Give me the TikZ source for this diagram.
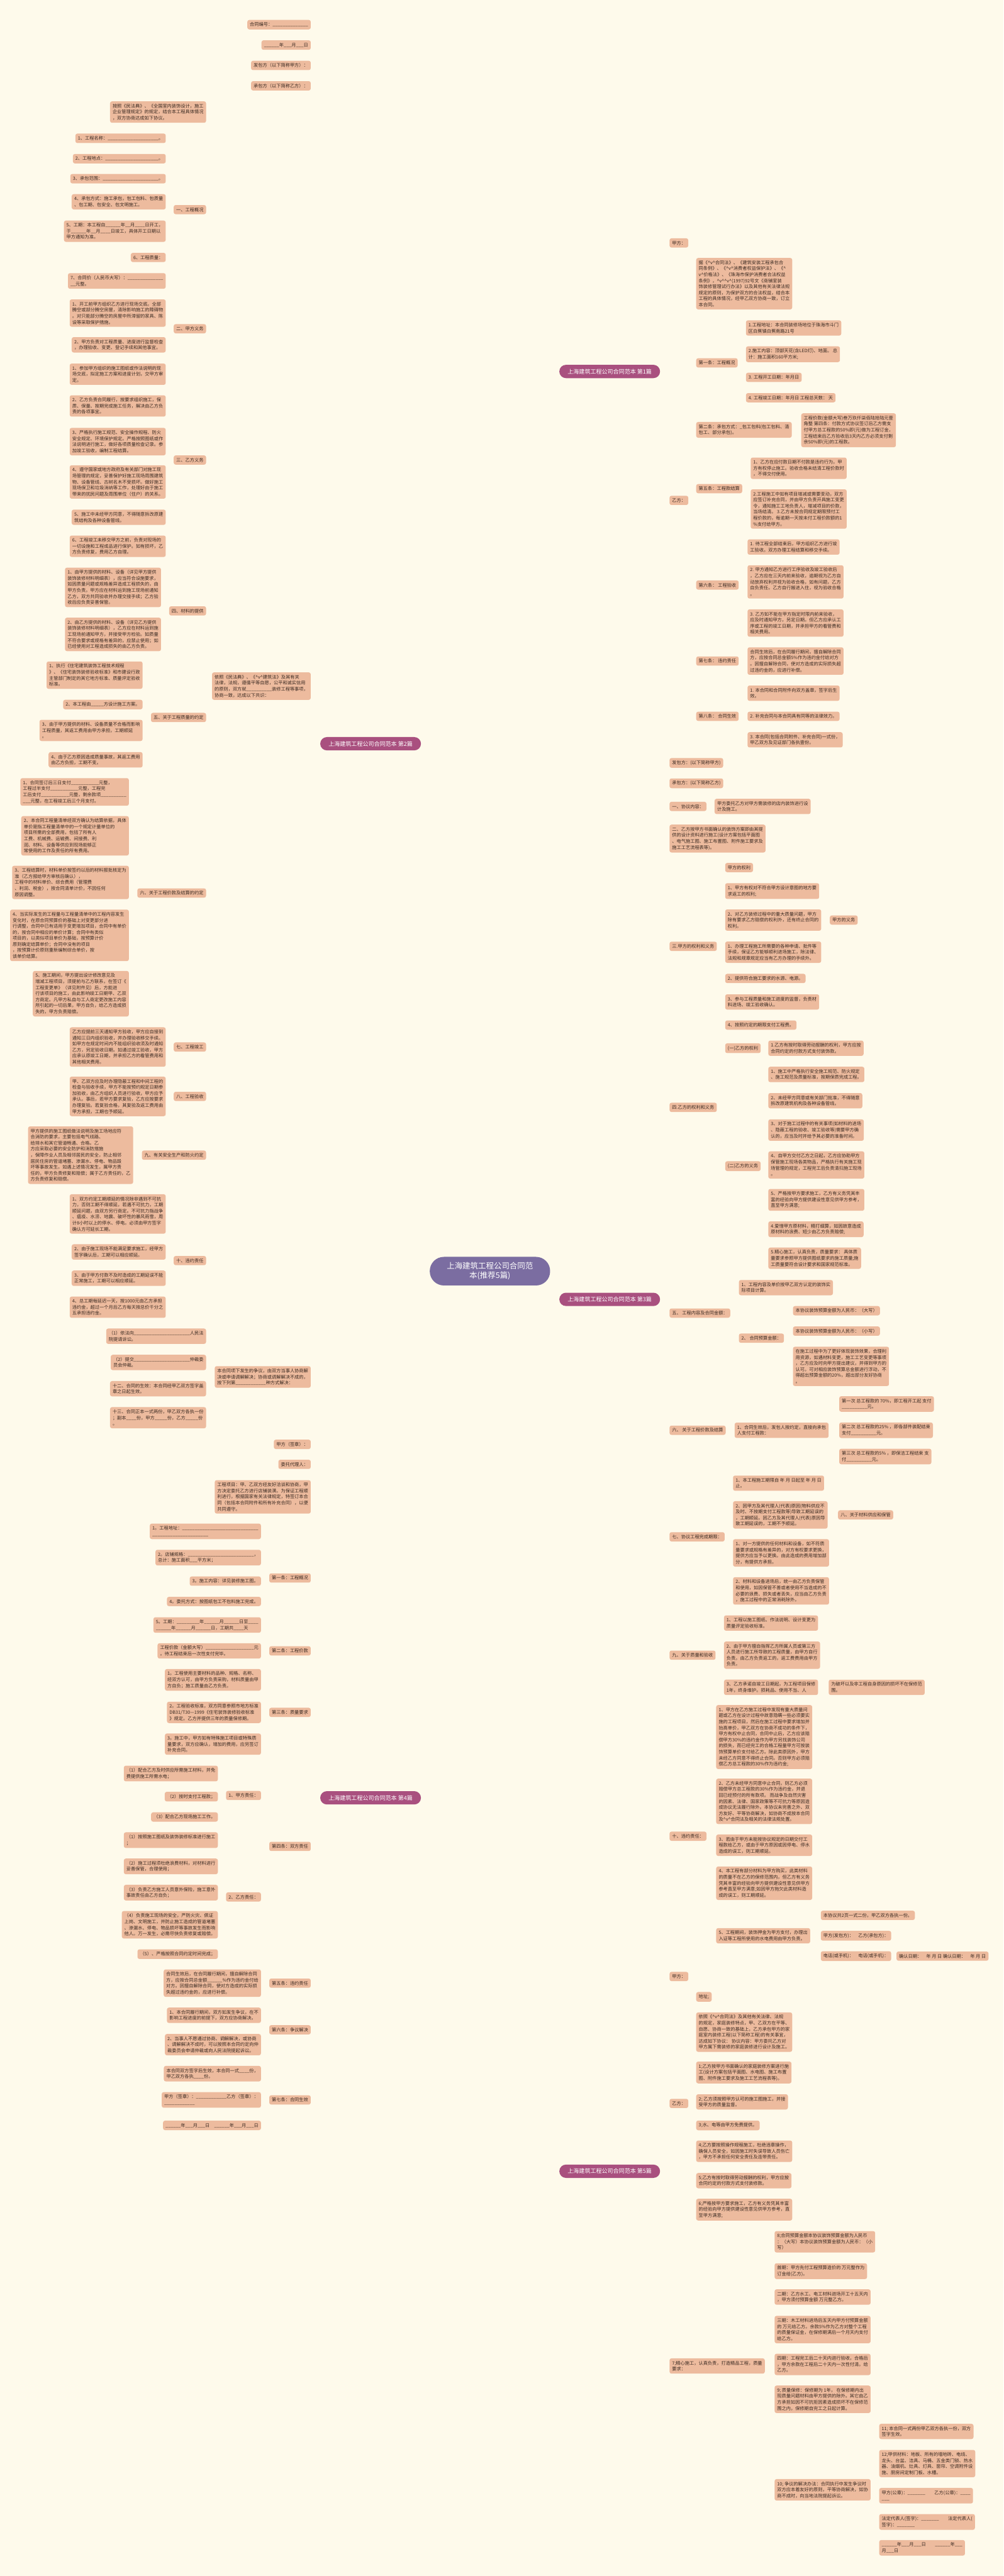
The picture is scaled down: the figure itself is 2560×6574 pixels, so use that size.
\documentclass[tikz,border=0pt]{standalone}
\usepackage{fontspec}
\setmainfont{Noto Sans CJK SC}
\usetikzlibrary{calc}
\XeTeXlinebreaklocale "zh"
\definecolor{bgc}{HTML}{FEFAEB}
\definecolor{leafc}{HTML}{EDBB9E}
\definecolor{pillc}{HTML}{A9507F}
\definecolor{rootc}{HTML}{7B6DA1}
\definecolor{linec}{HTML}{2F1B1C}
\definecolor{txtc}{HTML}{3A2A22}
\pgfdeclarelayer{bg}
\pgfsetlayers{bg,main}
\tikzset{
  lf/.style={rectangle, rounded corners=5pt, fill=leafc, text=txtc,
    font=\fontsize{11.6pt}{15.4pt}\selectfont, inner xsep=6.5pt, inner ysep=6.4pt, align=left},
  lfl/.style={lf, anchor=east},
  lfr/.style={lf, anchor=west},
  pill/.style={rectangle, rounded corners=17pt, fill=pillc, text=white,
    font=\fontsize{14.5pt}{17pt}\selectfont, minimum height=34pt, minimum width=257pt, inner xsep=4pt},
  rootn/.style={rectangle, rounded corners=36pt, fill=rootc, text=white,
    font=\fontsize{20pt}{24pt}\selectfont, align=center, minimum width=307pt, minimum height=73pt, inner ysep=10pt},
  cl/.style={draw=linec, line width=2pt, rounded corners=5pt,
    to path={-- ($(\tikztostart)!.5!(\tikztostart -| \tikztotarget)$) |- (\tikztotarget)}},
  cs/.style={draw=linec, line width=2pt},
  cv/.style={draw=linec, line width=2pt,
    to path={.. controls ($(\tikztostart)!.5!(\tikztostart -| \tikztotarget)$) and ($(\tikztotarget)!.5!(\tikztotarget -| \tikztostart)$) .. (\tikztotarget)}},
  rc/.style={draw=linec, line width=1.8pt},
}
\catcode`\_=12
\catcode`\^=12
\begin{document}
\begin{tikzpicture}[x=1pt,y=-1pt]
\useasboundingbox (0,0) rectangle (2560,6574);
\fill[bgc] (0,0) rectangle (2560,6574);
% ---------- root and branches
\node[rootn] (root) at (1250,3244) {上海建筑工程公司合同范\\本(推荐5篇)};
\node[pill] (b1) at (1555.5,948) {上海建筑工程公司合同范本 第1篇};
\node[pill] (b2) at (945.5,1898) {上海建筑工程公司合同范本 第2篇};
\node[pill] (b3) at (1555.5,3316) {上海建筑工程公司合同范本 第3篇};
\node[pill] (b4) at (945.5,4588) {上海建筑工程公司合同范本 第4篇};
\node[pill] (b5) at (1555.5,5541) {上海建筑工程公司合同范本 第5篇};

% ================= Branch 2 (left)
\node[lfl] (a1) at (793,63) {合同编号：______________};
\node[lfl] (a2) at (793,115) {______年___月___日};
\node[lfl] (a3) at (793,167) {发包方（以下简称甲方）：};
\node[lfl] (a4) at (793,219) {承包方（以下简称乙方）：};
\node[lfl] (a5) at (793,1751) {依照《民法典》、《^v^建筑法》及其有关\\法律，法规，遵循平等自愿，公平和诚实信用\\的原则，双方就__________装修工程等事项，\\协商一致，达成以下共识：};
\node[lfl] (a6) at (793,3514) {本合同项下发生的争议，由双方当事人协商解\\决或申请调解解决；协商或调解解决不成的，\\按下列第____________种方式解决：};
\node[lfl] (a7) at (793,3686) {甲方（签章）：};
\node[lfl] (a8) at (793,3737) {委托代理人：};

\node[lfl] (a50) at (526,286) {按照《民法典》、《全国室内装饰设计，施工\\企业管理规定》的规定，结合本工程具体情况\\，双方协商达成如下协议。};
\node[lfl] (a51) at (526,535) {一、工程概况};
\node[lfl] (a52) at (526,839) {二、甲方义务};
\node[lfl] (a53) at (526,1174) {三、乙方义务};
\node[lfl] (a54) at (526,1559) {四、材料的提供};
\node[lfl] (a55) at (526,1831) {五、关于工程质量的约定};
\node[lfl] (a56) at (526,2279) {六、关于工程价款及结算的约定};
\node[lfl] (a57) at (526,2672) {七、工程竣工};
\node[lfl] (a58) at (526,2798) {八、工程验收};
\node[lfl] (a59) at (526,2948) {九、有关安全生产和防火约定};
\node[lfl] (a510) at (526,3217) {十、违约责任};

\node[lfl] (a511) at (423,353) {1、工程名称：____________________。};
\node[lfl] (a512) at (423,405) {2、工程地点：_____________________。};
\node[lfl] (a513) at (423,456) {3、承包范围：______________________。};
\node[lfl] (a514) at (423,515) {4、承包方式：施工承包，包工包料、包质量\\、包工期、包安全、包文明施工。};
\node[lfl] (a515) at (423,590) {5、工期：本工程自______年__月____日开工，\\于______年__月____日竣工，具体开工日期以\\甲方通知为准。};
\node[lfl] (a516) at (423,657) {6、工程质量：};
\node[lfl] (a517) at (423,717) {7、合同价（人民币大写）：______________\\__元整。};

\node[lfl] (a521) at (423,799) {1、开工前甲方组织乙方进行现场交底。全部\\腾空或部分腾空房屋，清除影响施工的障碍物\\。对只能部分腾空的房屋中所滞留的家具、陈\\设等采取保护措施。};
\node[lfl] (a522) at (423,880) {2、甲方负责对工程质量、进度进行监督检查\\，办理验收、变更、登记手续和其他事宜。};

\node[lfl] (a531) at (423,955) {1、参加甲方组织的施工图纸或作法说明的现\\场交底，拟定施工方案和进度计划，交甲方审\\定。};
\node[lfl] (a532) at (423,1036) {2、乙方负责合同履行，按要求组织施工，保\\质、保量、按期完成施工任务，解决由乙方负\\责的各项事宜。};
\node[lfl] (a533) at (423,1127) {3、严格执行施工规范、安全操作规程、防火\\安全规定、环境保护规定。严格按照图纸或作\\法说明进行施工，做好各项质量检查记录。参\\加竣工验收，编制工程结算。};
\node[lfl] (a534) at (423,1230) {4、遵守国家或地方政府及有关部门对施工现\\场管理的规定，妥善保护好施工现场周围建筑\\物、设备管线、古树名木不受损坏。做好施工\\现场保卫和垃圾消纳等工作，处理好由于施工\\带来的扰民问题及周围单位（住户）的关系。};
\node[lfl] (a535) at (423,1320) {5、施工中未经甲方同意，不得随意拆改原建\\筑结构及各种设备管线。};
\node[lfl] (a536) at (423,1394) {6、工程竣工未移交甲方之前，负责对现场的\\一切设施和工程成品进行保护。如有损坏，乙\\方负责修复，费用乙方自理。};

\node[lfl] (a541) at (411,1499) {1、由甲方提供的材料、设备（详见甲方提供\\装饰装修材料明细表），应当符合设施要求，\\如因质量问题或规格差异造成工程损失的，由\\甲方负责。甲方应在材料运到施工现场前通知\\乙方，双方共同验收并办理交接手续；乙方验\\收后应负责妥善保管。};
\node[lfl] (a542) at (411,1619) {2、由乙方提供的材料、设备（详见乙方提供\\装饰装修材料明细表），乙方应在材料运到施\\工现场前通知甲方，并接受甲方检验。如质量\\不符合要求或规格有差异的，应禁止使用；如\\已经使用对工程造成损失的由乙方负责。};

\node[lfl] (a551) at (364,1723) {1、执行《住宅建筑装饰工程技术规程\\》、《住宅装饰装修验收标准》和市建设行政\\主管部门制定的其它地方标准、质量评定验收\\标准。};
\node[lfl] (a552) at (364,1798) {2、本工程由_____方设计施工方案。};
\node[lfl] (a553) at (364,1864) {3、由于甲方提供的材料、设备质量不合格而影响\\工程质量，其返工费用由甲方承担，工期顺延\\。};
\node[lfl] (a554) at (364,1939) {4、由于乙方原因造成质量事故，其返工费用\\由乙方负担，工期不变。};

\node[lfl] (a561) at (329,2021) {1、合同签订后三日支付___________元整，\\工程过半支付___________元整，工程完\\工后支付___________元整，剩余款项__________\\___元整，在工程竣工后三个月支付。};
\node[lfl] (a562) at (329,2133) {2、本合同工程量清单经双方确认为结算依据，具体\\单价是指工程量清单中的一个规定计量单位的\\项目所需的全部费用，包括了所有人\\工费、机械费、运输费、间接费、利\\润、材料、设备等供应到现场能够正\\常使用的工作及责任的所有费用。};
\node[lfl] (a563) at (329,2252) {3、工程结算时，材料单价按签约以后的材料报批核定为\\准（乙方报给甲方审核后确认），\\工程中的材料单价、综合费用（管理费\\、利润、税金），按合同清单计价，不因任何\\原因调整。};
\node[lfl] (a564) at (329,2387) {4、当实际发生的工程量与工程量清单中的工程内容发生\\变化时，在原合同预算价的基础上对变更部分进\\行调整，合同中已有适用于变更增加项目，合同中有单价\\的，按合同中相应的单价计算；合同中有类似\\项目的，以类似项目单价为基础，按预算计价\\原则确定结算单价；合同中没有的项目\\，按预算计价原则重新编制综合单价，按\\该单价结算。};
\node[lfl] (a565) at (329,2536) {5、施工期间，甲方提出设计修改意见及\\增减工程项目，须提前与乙方联系，在签订《\\工程变更单》（详见附件见）后，方能进\\行该项目的施工，由此影响竣工日期甲、乙双\\方商定。凡甲方私自与工人商定更改施工内容\\所引起的一切后果，甲方自负，给乙方造成损\\失的，甲方负责赔偿。};

\node[lfl] (a571) at (423,2672) {乙方应提前三天通知甲方验收，甲方应自接到\\通知三日内组织验收，并办理验收移交手续。\\如甲方在规定时间内不能组织验收须及时通知\\乙方，另定验收日期。如通过竣工验收，甲方\\应承认原竣工日期，并承担乙方的看管费用和\\其他相关费用。};
\node[lfl] (a581) at (423,2798) {甲、乙双方应及时办理隐蔽工程和中间工程的\\检查与验收手续，甲方不能按预约规定日期参\\加验收，由乙方组织人员进行验收，甲方应予\\承认。事后，若甲方要求复验，乙方应按要求\\办理复验。若复验合格，其复验及返工费用由\\甲方承担，工期也予顺延。};
\node[lfl] (a591) at (340,2948) {甲方提供的施工图纸做法说明及施工场地应符\\合消防的要求，主要包括电气线路、\\给排水和其它管道畅通、合格。乙\\方应采取必要的安全防护和消防措施\\，保障作业人员及相邻居民的安全，防止相邻\\居民住房的管道堵塞、渗漏水、停电、物品毁\\坏等事故发生。如遇上述情况发生，属甲方责\\任的，甲方负责修复和赔偿；属于乙方责任的，乙\\方负责修复和赔偿。};

\node[lfl] (a5101) at (423,3098) {1、双方约定工期顺延的情况除非遇到不可抗\\力，否则工期不得顺延，若遇不可抗力，工期\\顺延问题，由双方另行商定。不可抗力指战争\\、瘟疫、水涝、地震、破坏性的暴风雨雪，周\\计8小时以上的停水、停电。必须由甲方签字\\确认方可延长工期。};
\node[lfl] (a5102) at (423,3195) {2、由于施工现场不能满足要求施工，经甲方\\签字确认后，工期可以相应顺延。};
\node[lfl] (a5103) at (423,3262) {3、由于甲方付款不及时造成的工期延误不能\\正常施工，工期可以相应顺延。};
\node[lfl] (a5104) at (423,3336) {4、总工期每延迟一天，按1000元由乙方承担\\违约金，超过一个月后乙方每天按总价千分之\\五承担违约金。};

\node[lfl] (a61) at (526,3410) {（1）依法向______________________人民法\\院提请诉讼。};
\node[lfl] (a62) at (526,3477) {（2）提交______________________仲裁委\\员会仲裁。};
\node[lfl] (a63) at (526,3544) {十二、合同的生效：本合同经甲乙双方签字盖\\章之日起生效。};
\node[lfl] (a64) at (526,3618) {十三、合同正本一式两份，甲乙双方各执一份\\；副本____份，甲方_____份，乙方_____份\\。};

% ================= Branch 4 (left)
\node[lfl] (f1) at (793,3820) {工程项目：甲、乙双方经友好洽谈和协商，甲\\方决定委托乙方进行店铺装潢。为保证工程顺\\利进行，根据国家有关法律规定，特签订本合\\同（包括本合同附件和所有补充合同），以便\\共同遵守。};
\node[lfl] (f2) at (793,4027) {第一条：工程概况};
\node[lfl] (f3) at (793,4213) {第二条：工程价款};
\node[lfl] (f4) at (793,4370) {第三条：质量要求};
\node[lfl] (f5) at (793,4712) {第四条：双方责任};
\node[lfl] (f6) at (793,5061) {第五条：违约责任};
\node[lfl] (f7) at (793,5180) {第六条：争议解决};
\node[lfl] (f8) at (793,5359) {第七条：合同生效};

\node[lfl] (f21) at (666,3908) {1。工程地址：______________________________\\______________________};
\node[lfl] (f22) at (666,3975) {2。店铺规格：__________________________，\\总计：施工面积___平方米；};
\node[lfl] (f23) at (666,4035) {3。施工内容：详见装修施工图。};
\node[lfl] (f24) at (666,4087) {4。委托方式：按图纸包工不包料施工完成。};
\node[lfl] (f25) at (666,4147) {5。工期：_________年______月______日至____\\______年______月______日，工期共____天};
\node[lfl] (f31) at (666,4213) {工程价款（金额大写）___________________元\\。待工程结束后一次性支付完毕。};
\node[lfl] (f41) at (666,4287) {1。工程使用主要材料的品种、规格、名称、\\经双方认可，由甲方负责采购，材料质量由甲\\方自负；施工质量由乙方负责。};
\node[lfl] (f42) at (666,4370) {2。工程验收标准，双方同意参照市地方标准\\DB31/T30—1999《住宅装饰装修验收标准\\》规定。乙方并提供三年的质量保修期。};
\node[lfl] (f43) at (666,4451) {3。施工中，甲方如有特殊施工项目或特殊质\\量要求，双方应确认，增加的费用，应另签订\\补充合同。};
\node[lfl] (f51) at (666,4582) {1、甲方责任：};
\node[lfl] (f52) at (666,4841) {2、乙方责任：};
\node[lfl] (f511) at (556,4526) {（1）配合乙方及时供应所需施工材料，并免\\费提供施工所需水电；};
\node[lfl] (f512) at (556,4585) {（2）按时支付工程款；};
\node[lfl] (f513) at (556,4637) {（3）配合乙方现场施工工作。};
\node[lfl] (f521) at (556,4696) {（1）按照施工图纸及装饰装修标准进行施工\\；};
\node[lfl] (f522) at (556,4763) {（2）施工过程须杜绝浪费材料，对材料进行\\妥善保管，合理使用；};
\node[lfl] (f523) at (556,4830) {（3）负责乙方施工人员意外保险，施工意外\\事故责任由乙方自负；};
\node[lfl] (f524) at (556,4912) {（4）负责施工现场的安全，严防火灾、佩证\\上岗、文明施工，并防止施工造成的管道堵塞\\、渗漏水、停电、物品损坏等事故发生而影响\\他人。万一发生，必需尽快负责修复或赔偿。};
\node[lfl] (f525) at (556,4987) {（5）、严格按照合同约定时间完成；};
\node[lfl] (f61) at (666,5061) {合同生效后，在合同履行期间，擅自解除合同\\方，应按合同总金额______\%作为违约金付给\\对方。因擅自解除合同，使对方造成的实际损\\失超过违约金的，应进行补偿。};
\node[lfl] (f71) at (666,5143) {1、本合同履行期间，双方如发生争议，在不\\影响工程进度的前提下，双方应协商解决。};
\node[lfl] (f72) at (666,5218) {2、当事人不愿通过协商、调解解决，或协商\\、调解解决不成时，可以按照本合同约定向仲\\裁委员会申请仲裁或向人民法院提起诉讼。};
\node[lfl] (f81) at (666,5292) {本合同双方签字后生效，本合同一式____份，\\甲乙双方各执____份。};
\node[lfl] (f82) at (666,5359) {甲方（签章）：____________乙方（签章）：\\____________};
\node[lfl] (f83) at (666,5424) {______年___月___日\quad ______年___月___日};

% ================= Branch 1 (right)
\node[lfr] (g1) at (1708,620) {甲方：};
\node[lfr] (g2) at (1708,1277) {乙方：};
\node[lfr] (g21) at (1776,724) {据《^v^合同法》、《建筑安装工程承包合\\同条例》、《^v^消费者权益保护法》、《^\\v^价格法》、《珠海市保护消费者合法权益\\条例》，^v^^v^(1997)92号文《商铺室装\\饰装修管理试行办法》以及其他有关法律法规\\规定的原则，为保护双方的合法权益，结合本\\工程的具体情况，经甲乙双方协商一致，订立\\本合同。};
\node[lfr] (g22) at (1776,926) {第一条：工程概况};
\node[lfr] (g23) at (1776,1097) {第二条：承包方式：_包工包料(包工包料、清\\包工、部分承包)。};
\node[lfr] (g24) at (1776,1247) {第五条：工程款结算};
\node[lfr] (g25) at (1776,1493) {第六条： 工程验收};
\node[lfr] (g26) at (1776,1687) {第七条： 违约责任};
\node[lfr] (g27) at (1776,1828) {第八条： 合同生效};
\node[lfr] (g221) at (1903,837) {1.工程地址：本合同装修场地位于珠海市斗门\\区白蕉镇白蕉南路21号};
\node[lfr] (g222) at (1903,904) {2.施工内容：顶部天花(含LED灯)、地面。 总\\计：施工面积160平方米;};
\node[lfr] (g223) at (1903,963) {3. 工程开工日期：年月日};
\node[lfr] (g224) at (1903,1015) {4. 工程竣工日期：年月日 工程总天数： 天};
\node[lfr] (g231) at (2044,1098) {工程价款(金额大写)叁万玖仟柒佰陆拾陆元壹\\角整 第四条：付款方式协议签订后乙方需支\\付甲方总工程款的50\%即(元)做为工程订金，\\工程结束后乙方验收后3天内乙方必须支付剩\\余50\%即(元)的工程款。};
\node[lfr] (g241) at (1915,1195) {1、乙方在应付款日期不付款是违约行为，甲\\方有权停止施工。验收合格未结清工程价款时\\，不得交付使用。};
\node[lfr] (g242) at (1915,1299) {2.工程施工中如有项目增减或需要变动，双方\\应签订补充合同，并由甲方负责开具施工变更\\令，通知施工工地负责人，增减项目的价款，\\当场结清。 3.乙方未按合同规定期限预付工\\程价款的，每逾期一天按未付工程价款额的1\\\%支付给甲方。};
\node[lfr] (g251) at (1907,1396) {1. 待工程全部结束后，甲方组织乙方进行竣\\工验收。双方办理工程结算和移交手续。};
\node[lfr] (g252) at (1907,1485) {2. 甲方通知乙方进行工序验收及竣工验收后\\，乙方应在三天内前来验收，逾期视为乙方自\\动放弃权利并视为验收合格，如有问题，乙方\\自负责任。乙方自行搬进入住，视为验收合格\\。};
\node[lfr] (g253) at (1907,1590) {3. 乙方如不能在甲方指定时限内前来验收，\\应及时通知甲方，另定日期。但乙方应承认工\\序或工程的竣工日期，并承担甲方的看管费和\\相关费用。};
\node[lfr] (g261) at (1907,1687) {合同生效后，在合同履行期间，擅自解除合同\\方，应按合同总金额5\%作为违约金付给对方\\。因擅自解除合同，使对方造成的实际损失超\\过违约金的，应进行补偿。};
\node[lfr] (g271) at (1907,1769) {1. 本合同和合同附件向双方盖章，签字后生\\效。};
\node[lfr] (g272) at (1907,1828) {2. 补充合同与本合同具有同等的法律效力。};
\node[lfr] (g273) at (1907,1888) {3. 本合同(包括合同附件、补充合同)一式份，\\甲乙双方及见证部门各执壹份。};

% ================= Branch 3 (right)
\node[lfr] (h1) at (1708,1947) {发包方：(以下简称甲方)};
\node[lfr] (h2) at (1708,1999) {承包方：(以下简称乙方)};
\node[lfr] (h3) at (1708,2058) {一、协议内容：};
\node[lfr] (h4) at (1708,2140) {二、乙方按甲方书面确认的装饰方案即由其提\\供的设计资料进行施工(设计方案包括平面图\\、电气施工图、施工布置图、附件施工要求及\\施工工艺流程表等)。};
\node[lfr] (h5) at (1708,2415) {三.甲方的权利和义务};
\node[lfr] (h6) at (1708,2826) {四.乙方的权利和义务};
\node[lfr] (h7) at (1708,3351) {五、 工程内容及合同金额：};
\node[lfr] (h8) at (1708,3650) {六、 关于工程价款及结算};
\node[lfr] (h9) at (1708,3922) {七、协议工程完成期限：};
\node[lfr] (h10) at (1708,4224) {九、关于质量和验收};
\node[lfr] (h11) at (1708,4686) {十、违约责任：};

\node[lfr] (h31) at (1823,2058) {甲方委托乙方对甲方需装修的店内装饰进行设\\计及施工。};
\node[lfr] (h51) at (1850,2214) {甲方的权利};
\node[lfr] (h52) at (1850,2274) {1、甲方有权对不符合甲方设计意图的地方要\\求返工的权利;};
\node[lfr] (h53) at (1850,2348) {2、对乙方装修过程中的重大质量问题，甲方\\除有要求乙方赔偿的权利外，还有终止合同的\\权利。};
\node[lfr] (h53a) at (2117,2348) {甲方的义务};
\node[lfr] (h54) at (1850,2430) {1、办理工程施工所需要的各种申请、批件等\\手续，保证乙方能够顺利进场施工，除法律、\\法规和规章规定应当有乙方办理的手续外。};
\node[lfr] (h55) at (1850,2497) {2、提供符合施工要求的水源、电源。};
\node[lfr] (h56) at (1850,2557) {3、参与工程质量和施工进度的监督，负责材\\料进场、竣工验收确认。};
\node[lfr] (h57) at (1850,2616) {4、按照约定的期限支付工程费。};

\node[lfr] (h61) at (1850,2675) {(一)乙方的权利};
\node[lfr] (h61a) at (1960,2675) {1.乙方有按时取得劳动报酬的权利，甲方应按\\合同约定的付款方式支付装饰款。};
\node[lfr] (h62) at (1850,2976) {(二)乙方的义务};
\node[lfr] (h621) at (1960,2742) {1、施工中严格执行安全施工规范、防火规定\\、施工规范及质量标准，按期保质完成工程。};
\node[lfr] (h622) at (1960,2809) {2、未经甲方同意或有关部门批准，不得随意\\拆改原建筑机构及各种设备管线。};
\node[lfr] (h623) at (1960,2884) {3、对于施工过程中的有关事项(如材料的进场\\、隐蔽工程的验收、竣工验收等)需要甲方确\\认的，应当及时并给予其必要的准备时间。};
\node[lfr] (h624) at (1960,2973) {4、自甲方交付乙方之日起，乙方应协助甲方\\保管施工现场各类物品，严格执行有关施工现\\场管理的规定，工程完工后负责清扫施工现场\\。};
\node[lfr] (h625) at (1960,3062) {5、严格按甲方要求施工，乙方有义务凭其丰\\富的经验向甲方提供建设性意见供甲方参考，\\直至甲方满意;};
\node[lfr] (h626) at (1960,3137) {4.爱惜甲方原材料，精打细算，如因故意造成\\原材料的浪费、短少由乙方负责赔偿;};
\node[lfr] (h627) at (1960,3211) {5.精心施工，认真负责，质量要求： 具体质\\量要求参照甲方提供图纸要求的施工质量;施\\工质量要符合设计要求和国家规范标准。};

\node[lfr] (h71) at (1885,3286) {1、工程内容及单价按甲乙双方认定的装饰实\\际项目计算。};
\node[lfr] (h72) at (1885,3415) {2、 合同预算金额：};
\node[lfr] (h721) at (2023,3345) {本协议装饰预算金额为人民币：（大写）};
\node[lfr] (h722) at (2023,3397) {本协议装饰预算金额为人民币：（小写）};
\node[lfr] (h723) at (2023,3487) {在施工过程中为了更好体现装饰效果，合理利\\用资源，如遇材料变更，施工工艺变更等事项\\，乙方应及时向甲方提出建议，并得到甲方的\\认可。可对相应装饰预算总金额进行浮动，不\\得超出预算金额的20\%，超出部分友好协商\\。};

\node[lfr] (h81) at (1874,3650) {1、合同生效后，发包人按约定，直接向承包\\人支付工程款：};
\node[lfr] (h811) at (2141,3583) {第一次 总工程款的 70\%，即工程开工起 支付\\__________元。};
\node[lfr] (h812) at (2141,3650) {第二次 总工程款的25\% ，即各部件装配结束\\支付__________元。};
\node[lfr] (h813) at (2141,3717) {第三次 总工程款的5\% ，即保洁工程结束 支\\付__________元。};

\node[lfr] (h91) at (1870,3785) {1、本工程施工期限自 年 月 日起至 年 月 日\\止。};
\node[lfr] (h92) at (1870,3866) {2、因甲方及其代理人(代表)原因(物料供应不\\及时、不按期支付工程款等)导致工期延误的\\，工期顺延。因乙方及其代理人(代表)原因导\\致工期延误的，工期不予顺延。};
\node[lfr] (h92a) at (2138,3866) {八、关于材料供应和保管};
\node[lfr] (h93) at (1870,3963) {1、对一方提供的任何材料和设备，如不符质\\量要求或规格有差异的，对方有权要求更换，\\提供方应当予以更换。由此造成的费用增加部\\分，有提供方承担。};
\node[lfr] (h94) at (1870,4060) {2、材料和设备进场后，统一由乙方负责保管\\和使用，如因保管不善或者使用不当造成的不\\必要的浪费、损失或者丢失，应当由乙方负责\\，施工过程中的正常消耗除外。};

\node[lfr] (h101) at (1847,4142) {1、工程以施工图纸、作法说明、设计变更为\\质量评定验收标准。};
\node[lfr] (h102) at (1847,4224) {2、由于甲方擅自指挥乙方所属人员或第三方\\人员进行施工所导致的工程质量，由甲方自行\\负责。由乙方负责返工的，返工费费用由甲方\\负责。};
\node[lfr] (h103) at (1847,4306) {3、乙方承诺自竣工日期起，为工程项目保修\\1年，终身维护。损耗品、使用不当、人};
\node[lfr] (h103a) at (2114,4306) {为破坏以及非工程自身原因的损坏不在保修范\\围。};

\node[lfr] (h111) at (1827,4433) {1、甲方在乙方施工过程中发现有重大质量问\\题或乙方在设计过程中故意隐瞒一些必须要实\\施的工程项目，然后在施工过程中要求增加并\\抬高单价，甲乙双方在协商不成功的条件下，\\甲方有权中止合同，合同中止后，乙方应该赔\\偿甲方30\%的违约金作为甲方另找装饰公司\\的损失，而已经完工的合格工程量甲方可按装\\饰预算单价支付给乙方。除此类原因外，甲方\\未经乙方同意不得终止合同。否则甲方必须赔\\偿乙方总工程款的30\%作为违约金;};
\node[lfr] (h112) at (1827,4597) {2、乙方未经甲方同意中止合同，则乙方必须\\赔偿甲方总工程款的30\%作为违约金，并退\\回已经预付的所有款项。 而战争及自然灾害\\的因素、法律、国家政策等不可抗力等原因造\\成协议无法履行除外。本协议未完善之外、双\\方友好、平等协商解决，如协商不成按本合同\\及^v^合同法及相关的法律法规处置。};
\node[lfr] (h113) at (1827,4709) {3、若由于甲方未能按协议规定的日期交付工\\程款给乙方，或由于甲方原因或因停电、停水\\造成的误工，则工期顺延。};
\node[lfr] (h114) at (1827,4806) {4、本工程有部分材料为甲方购买，此类材料\\的质量不在乙方的保修范围内，但乙方有义务\\凭其丰富的经验向甲方提供建设性意见供甲方\\参考直至甲方满意;如因甲方拖欠此类材料造\\成的误工，则工期顺延。};
\node[lfr] (h115) at (1827,4940) {5、工程期间，装饰押金为甲方支付，办理出\\入证等工程所使用的水电费用由甲方负责。};
\node[lfr] (h1151) at (2094,4888) {本协议共2页一式二份，甲乙双方各执一份。};
\node[lfr] (h1152) at (2094,4940) {甲方(发包方)：\quad 乙方(承包方)：};
\node[lfr] (h1153) at (2094,4992) {电话(或手机)：\quad 电话(或手机)：};
\node[lfr] (h1154) at (2287,4992) {确认日期：\quad 年 月 日 确认日期：\quad 年 月 日};

% ================= Branch 5 (right)
\node[lfr] (k1) at (1708,5044) {甲方：};
\node[lfr] (k2) at (1708,5368) {乙方：};
\node[lfr] (k3) at (1708,6038) {7;精心施工，认真负责，打造精品工程，质量\\要求：};
\node[lfr] (k21) at (1776,5096) {地址;};
\node[lfr] (k22) at (1776,5186) {依照《^v^合同法》及其他有关法律、法规\\的规定，家庭装修特点，甲、乙双方在平等、\\自愿、协商一致的基础上，乙方承包甲方的家\\庭室内装修工程(以下简称工程)的有关事宜，\\达成如下协议： 协议内容：甲方委托乙方对\\甲方属下需装修的家庭装修进行设计及施工。};
\node[lfr] (k23) at (1776,5289) {1;乙方按甲方书面确认的家庭装修方案进行施\\工(设计方案包括平面图、水电图、施工布置\\图、附件施工要求及施工工艺流程表等)。};
\node[lfr] (k24) at (1776,5364) {2; 乙方须按照甲方认可的施工图施工，并接\\受甲方的质量监督。};
\node[lfr] (k25) at (1776,5424) {3;水、电等由甲方免费提供。};
\node[lfr] (k26) at (1776,5490) {4;乙方要按照操作规程施工，杜绝违章操作，\\确保人员安全，如因施工时失误导致人员伤亡\\，甲方不承担任何安全责任及连带责任。};
\node[lfr] (k27) at (1776,5565) {5;乙方有按时取得劳动报酬的权利，甲方应按\\合同约定的付款方式支付装修款。};
\node[lfr] (k28) at (1776,5639) {6;严格按甲方要求施工，乙方有义务凭其丰富\\的经验向甲方提供建设性意见供甲方参考，直\\至甲方满意;};
\node[lfr] (k31) at (1976,5721) {8;合同预算金额本协议装饰预算金额为人民币\\：（大写）本协议装饰预算金额为人民币：（小\\写）};
\node[lfr] (k32) at (1976,5796) {首期：甲方先付工程预算造价的 万元整作为\\订金给(乙方)。};
\node[lfr] (k33) at (1976,5862) {二期：乙方水工、电工材料进场开工十五天内\\，甲方须付预算金额 万元整乙方。};
\node[lfr] (k34) at (1976,5945) {三期：木工材料进场后五天内甲方付预算金额\\的 万元给乙方。余款5\%作为乙方对整个工程\\的质量保证金，在保修期满后一个月天内支付\\给乙方。};
\node[lfr] (k35) at (1976,6034) {四期：工程完工后二十天内进行验收，合格后\\，甲方余款在工程后二十天内一次性付清。给\\乙方。};
\node[lfr] (k36) at (1976,6123) {9; 质量保修：保修期为 1年， 在保修期内出\\现质量问题材料由甲方提供的除外。其它由乙\\方承担如因不可抗拒因素造成损坏不在保修范\\围之内，保修期自完工之日起计算。};
\node[lfr] (k37) at (1976,6354) {10; 争议的解决办法：合同执行中发生争议时\\双方应本着友好的原则，平等协商解决，如协\\商不成时，向当地法院提起诉讼。};
\node[lfr] (k371) at (2243,6205) {11; 本合同一式两份甲乙双方各执一份，双方\\签字生效。};
\node[lfr] (k372) at (2243,6287) {12;甲供材料：地板、所有的墙地砖、电线、\\龙头、台盆、洁具、马桶、五金类门锁、热水\\器、油烟机、灶具、灯具、窗帘、空调附件设\\施、厨房间定制门板、水槽。};
\node[lfr] (k373) at (2243,6369) {甲方(公章)：_______\qquad 乙方(公章)：____\\___};
\node[lfr] (k374) at (2243,6436) {法定代表人(签字)：_______\qquad 法定代表人(\\签字)：_______};
\node[lfr] (k375) at (2243,6502) {______年___月___日\qquad ______年___\\月___日};

% ================= connectors
\begin{pgfonlayer}{bg}
\draw[rc] (root.center) .. controls (1250,2300) and (1300,948) .. (b1.west);
\draw[rc] (root.center) .. controls (1250,2500) and (1180,1898) .. (b2.east);
\draw[rc] (root.center) .. controls (1265,3316) and (1340,3316) .. (b3.west);
\draw[rc] (root.center) .. controls (1250,3990) and (1180,4588) .. (b4.east);
\draw[rc] (root.center) .. controls (1250,4300) and (1320,5541) .. (b5.west);
% branch 2
\foreach \c in {a1,a2,a3,a4,a5,a6,a7,a8} \draw[cv] (b2.west) to (\c.east);
\foreach \c in {a50,a51,a52,a53,a54,a55,a56,a57,a58,a59,a510} \draw[cl] (a5.west) to (\c.east);
\foreach \c in {a511,a512,a513,a514,a515,a516,a517} \draw[cl] (a51.west) to (\c.east);
\foreach \c in {a521,a522} \draw[cl] (a52.west) to (\c.east);
\foreach \c in {a531,a532,a533,a534,a535,a536} \draw[cl] (a53.west) to (\c.east);
\foreach \c in {a541,a542} \draw[cl] (a54.west) to (\c.east);
\foreach \c in {a551,a552,a553,a554} \draw[cl] (a55.west) to (\c.east);
\foreach \c in {a561,a562,a563,a564,a565} \draw[cl] (a56.west) to (\c.east);
\draw[cs] (a57.west) -- (a571.east);
\draw[cs] (a58.west) -- (a581.east);
\draw[cs] (a59.west) -- (a591.east);
\foreach \c in {a5101,a5102,a5103,a5104} \draw[cl] (a510.west) to (\c.east);
\foreach \c in {a61,a62,a63,a64} \draw[cl] (a6.west) to (\c.east);
% branch 4
\foreach \c in {f1,f2,f3,f4,f5,f6,f7,f8} \draw[cv] (b4.west) to (\c.east);
\foreach \c in {f21,f22,f23,f24,f25} \draw[cl] (f2.west) to (\c.east);
\draw[cs] (f3.west) -- (f31.east);
\foreach \c in {f41,f42,f43} \draw[cl] (f4.west) to (\c.east);
\foreach \c in {f51,f52} \draw[cl] (f5.west) to (\c.east);
\foreach \c in {f511,f512,f513} \draw[cl] (f51.west) to (\c.east);
\foreach \c in {f521,f522,f523,f524,f525} \draw[cl] (f52.west) to (\c.east);
\draw[cs] (f6.west) -- (f61.east);
\foreach \c in {f71,f72} \draw[cl] (f7.west) to (\c.east);
\foreach \c in {f81,f82,f83} \draw[cl] (f8.west) to (\c.east);
% branch 1
\foreach \c in {g1,g2} \draw[cv] (b1.east) to (\c.west);
\foreach \c in {g21,g22,g23,g24,g25,g26,g27} \draw[cl] (g2.east) to (\c.west);
\foreach \c in {g221,g222,g223,g224} \draw[cl] (g22.east) to (\c.west);
\draw[cs] (g23.east) -- (g231.west);
\foreach \c in {g241,g242} \draw[cl] (g24.east) to (\c.west);
\foreach \c in {g251,g252,g253} \draw[cl] (g25.east) to (\c.west);
\draw[cs] (g26.east) -- (g261.west);
\foreach \c in {g271,g272,g273} \draw[cl] (g27.east) to (\c.west);
% branch 3
\foreach \c in {h1,h2,h3,h4,h5,h6,h7,h8,h9,h10,h11} \draw[cv] (b3.east) to (\c.west);
\draw[cs] (h3.east) -- (h31.west);
\foreach \c in {h51,h52,h53,h54,h55,h56,h57} \draw[cl] (h5.east) to (\c.west);
\draw[cs] (h53.east) -- (h53a.west);
\foreach \c in {h61,h62} \draw[cl] (h6.east) to (\c.west);
\draw[cs] (h61.east) -- (h61a.west);
\foreach \c in {h621,h622,h623,h624,h625,h626,h627} \draw[cl] (h62.east) to (\c.west);
\foreach \c in {h71,h72} \draw[cl] (h7.east) to (\c.west);
\foreach \c in {h721,h722,h723} \draw[cl] (h72.east) to (\c.west);
\draw[cs] (h8.east) -- (h81.west);
\foreach \c in {h811,h812,h813} \draw[cl] (h81.east) to (\c.west);
\foreach \c in {h91,h92,h93,h94} \draw[cl] (h9.east) to (\c.west);
\draw[cs] (h92.east) -- (h92a.west);
\foreach \c in {h101,h102,h103} \draw[cl] (h10.east) to (\c.west);
\draw[cs] (h103.east) -- (h103a.west);
\foreach \c in {h111,h112,h113,h114,h115} \draw[cl] (h11.east) to (\c.west);
\foreach \c in {h1151,h1152,h1153} \draw[cl] (h115.east) to (\c.west);
\draw[cs] (h1153.east) -- (h1154.west);
% branch 5
\foreach \c in {k1,k2,k3} \draw[cv] (b5.east) to (\c.west);
\foreach \c in {k21,k22,k23,k24,k25,k26,k27,k28} \draw[cl] (k2.east) to (\c.west);
\foreach \c in {k31,k32,k33,k34,k35,k36,k37} \draw[cl] (k3.east) to (\c.west);
\foreach \c in {k371,k372,k373,k374,k375} \draw[cl] (k37.east) to (\c.west);
\end{pgfonlayer}
\end{tikzpicture}
\end{document}
